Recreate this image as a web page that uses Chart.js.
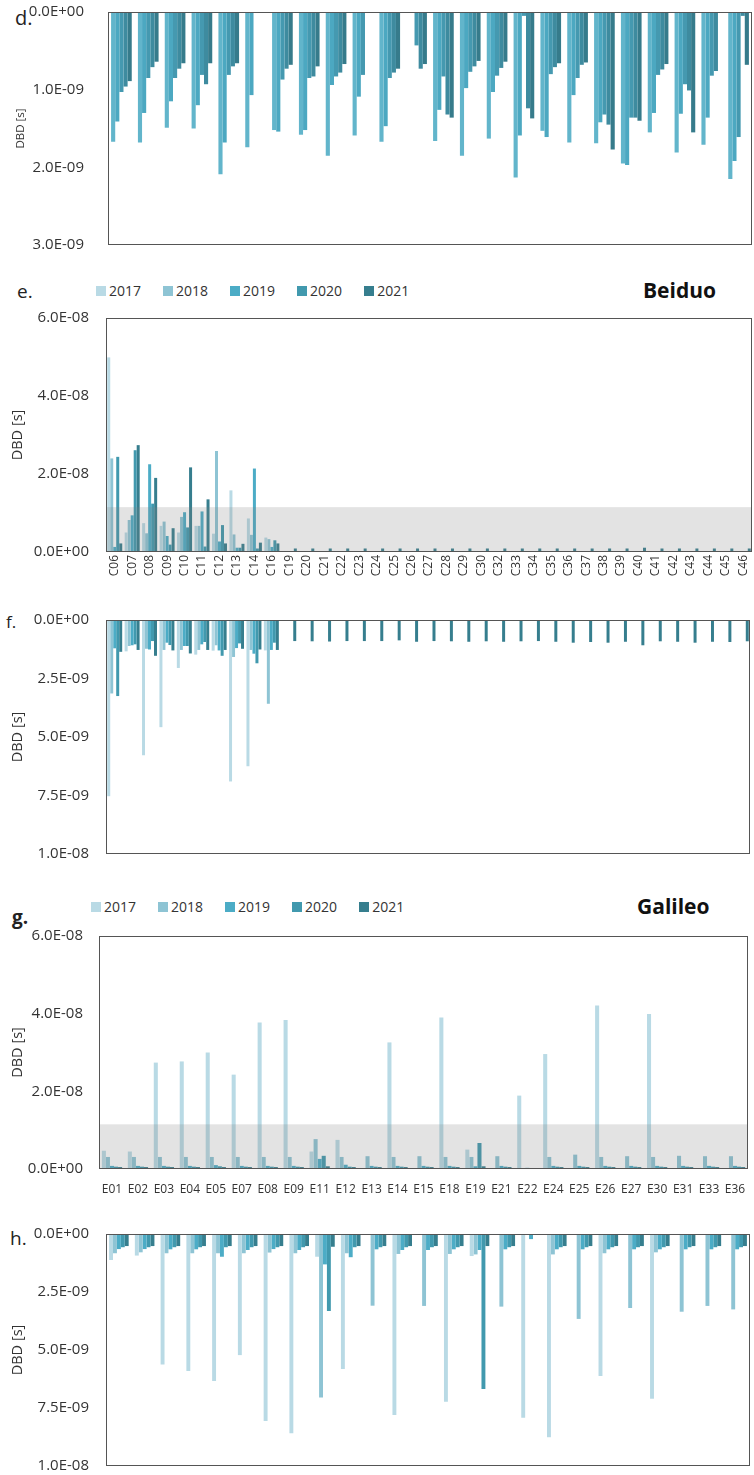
<!DOCTYPE html>
<html>
<head>
<meta charset="utf-8">
<script src="https://cdn.jsdelivr.net/npm/chart.js@4.4.1/dist/chart.umd.min.js"></script>
<style>
  body { margin: 0; background: #fff; font-family: 'Open Sans', sans-serif; color: #222; }
  #page { position: relative; width: 754px; height: 1475px; overflow: hidden; }
  canvas { position: absolute; left: 0; }
  .tag { position: absolute; font-size: 19px; line-height: 1; }
  .sys { position: absolute; font-size: 21px; font-weight: bold; line-height: 1; color: #111; }
  .legend { position: absolute; display: flex; font-size: 14px; line-height: 1; color: #333; }
  .legend .item { display: flex; align-items: center; margin-right: 22px; }
  .legend i { display: inline-block; width: 10px; height: 10px; margin-right: 3px; }
</style>
</head>
<body>
<div id="page">
  <div class="tag" style="left:15px; top:8px; font-size:20px;">d.</div>
  <div class="tag" style="left:17px; top:282px;">e.</div>
  <div class="tag" style="left:6px; top:613px; font-size:17px;">f.</div>
  <div class="tag" style="left:12px; top:908px; font-weight:bold;">g.</div>
  <div class="tag" style="left:10px; top:1229px;">h.</div>

  <div class="legend" id="legE" style="left:96px; top:284px;"></div>
  <div class="sys" style="left:643px; top:280px;">Beiduo</div>
  <div class="legend" id="legG" style="left:91px; top:900px;"></div>
  <div class="sys" style="left:637px; top:896px;">Galileo</div>

  <canvas id="chartD" width="754" height="255" style="top:0px;"></canvas>
  <canvas id="chartE" width="754" height="282" style="top:300px;"></canvas>
  <canvas id="chartF" width="754" height="264" style="top:600px;"></canvas>
  <canvas id="chartG" width="754" height="279" style="top:920px;"></canvas>
  <canvas id="chartH" width="754" height="259" style="top:1215px;"></canvas>
</div>
<script>
'use strict';

// Series (years) and colours
const years = ['2017', '2018', '2019', '2020', '2021'];
const yearColors = ['#b9dae5', '#8ec4d4', '#4cacc6', '#4199ae', '#367e8e'];
const dColors = ['#62b5cb', '#4ca8c1', '#4599b0', '#3e8b9f', '#367b8b'];

// Units the values below are written in
const unit9 = 1e-9;
const unit8 = 1e-8;

// Grey band limit for e. and g.
const bandLimit = 1.15e-8;

// Tick labels
const dTicks = [0, 1e-9, 2e-9, 3e-9];
const eTicks = [0, 2e-8, 4e-8, 6e-8];
const fTicks = [0, 2.5e-9, 5e-9, 7.5e-9, 1e-8];
const gTicks = [0, 2e-8, 4e-8, 6e-8];
const hTicks = [0, 2.5e-9, 5e-9, 7.5e-9, 1e-8];

// d. (satellite names are not shown in the picture)
const dSats = ['1', '2', '3', '4', '5', '6', '7', '8', '9', '10', '11', '12',
    '13', '14', '15', '16', '17', '18', '19', '20', '21', '22', '23', '24'];
const d2017 = [1.67, 1.68, 1.49, 1.50, 2.09, 1.74, 1.52, 1.58, 1.85, 1.59, 1.67, null, 1.66, 1.85, 1.63, 2.13, 1.53, 1.68, 1.69, 1.95, 1.55, 1.81, 1.71, 2.15];
const d2018 = [1.41, 1.30, 1.15, 1.20, 1.68, 1.07, 1.54, 1.52, 0.94, 1.09, 1.47, null, 1.26, 0.98, 1.03, 1.59, 1.61, 1.07, 1.42, 1.97, 1.30, 1.31, 1.36, 1.92];
const d2019 = [1.03, 0.85, 0.85, 0.81, 0.81, null, 0.87, 0.85, 0.83, 0.81, 0.85, 0.43, 0.83, 0.77, 0.82, 0.05, 0.80, 0.85, 1.32, 1.36, 0.81, 0.93, 0.82, 1.61];
const d2020 = [0.96, 0.71, 0.73, 0.93, 0.70, null, 0.73, 0.83, 0.78, null, 0.78, 0.73, 1.32, 0.70, 0.72, 1.24, 0.71, 0.68, 1.45, 1.36, 0.74, 1.01, 0.76, 0.05];
const d2021 = [0.89, 0.64, 0.66, 0.66, 0.66, null, 0.68, 0.70, 0.67, null, 0.73, 0.67, 1.36, 0.63, 0.64, 1.37, 0.66, 0.65, 1.77, 1.40, 0.67, 1.55, null, 0.68];

// Beiduo satellites (e. and f.)
const bdsSats = ['C06', 'C07', 'C08', 'C09', 'C10', 'C11', 'C12', 'C13', 'C14', 'C16',
    'C19', 'C20', 'C21', 'C22', 'C23', 'C24', 'C25', 'C26', 'C27', 'C28', 'C29', 'C30',
    'C32', 'C33', 'C34', 'C35', 'C36', 'C37', 'C38', 'C39', 'C40', 'C41', 'C42', 'C43',
    'C44', 'C45', 'C46'];
const e2017 = [4.99, 0.50, 0.74, 0.67, 0.50, 0.67, 0.47, 1.58, 0.86, 0.37,
    null, null, null, null, null, null, null, null, null, null, null, null, null, null,
    null, null, null, null, null, null, null, null, null, null, null, null, null];
const e2018 = [2.40, 0.82, 0.48, 0.78, 0.90, 0.67, 2.59, 0.45, 0.44, 0.33,
    null, null, null, null, null, null, null, null, null, null, null, null, null, null,
    null, null, null, null, null, null, null, null, null, null, null, null, null];
const e2019 = [0.13, 0.94, 2.25, 0.41, 1.02, 1.04, 0.27, 0.11, 2.14, 0.13,
    null, null, null, null, null, null, null, null, null, null, null, null, null, null,
    null, null, null, null, null, null, null, null, null, null, null, null, null];
const e2020 = [2.44, 2.61, 1.24, 0.19, 0.63, 0.14, 0.69, 0.11, 0.09, 0.30,
    null, null, null, null, null, null, null, null, null, null, null, null, null, null,
    null, null, null, null, null, null, null, null, null, null, null, null, null];
const e2021 = [0.22, 2.74, 1.90, 0.61, 2.17, 1.35, 0.22, 0.21, 0.24, 0.22,
    0.09, 0.09, 0.09, 0.09, 0.09, 0.09, 0.09, 0.09, 0.09, 0.09, 0.09, 0.09, 0.09, 0.09,
    0.09, 0.09, 0.09, 0.09, 0.09, 0.09, 0.11, 0.09, 0.09, 0.09, 0.09, 0.09, 0.09];

const f2017 = [7.53, 1.34, 5.78, 4.58, 2.05, 1.48, 1.31, 6.90, 6.25, 1.30,
    null, null, null, null, null, null, null, null, null, null, null, null, null, null,
    null, null, null, null, null, null, null, null, null, null, null, null, null];
const f2018 = [3.14, 1.11, 1.23, 1.28, 1.28, 1.28, 1.08, 1.58, 1.28, 3.58,
    null, null, null, null, null, null, null, null, null, null, null, null, null, null,
    null, null, null, null, null, null, null, null, null, null, null, null, null];
const f2019 = [1.21, 1.08, 1.26, 0.97, 1.11, 1.04, 1.30, 1.20, 1.44, 1.28,
    null, null, null, null, null, null, null, null, null, null, null, null, null, null,
    null, null, null, null, null, null, null, null, null, null, null, null, null];
const f2020 = [3.25, 1.04, 0.90, 1.07, 1.11, 0.94, 1.53, 1.00, 1.85, 0.97,
    null, null, null, null, null, null, null, null, null, null, null, null, null, null,
    null, null, null, null, null, null, null, null, null, null, null, null, null];
const f2021 = [1.36, 1.28, 1.53, 1.30, 1.43, 1.28, 1.28, 1.23, 1.26, 1.28,
    0.90, 0.91, 0.92, 0.90, 0.90, 0.90, 0.87, 0.93, 0.90, 0.91, 0.93, 0.91, 0.93, 0.91,
    0.90, 0.93, 0.97, 0.94, 0.97, 0.93, 1.08, 0.91, 0.93, 0.97, 0.93, 0.94, 0.91];

// Galileo satellites (g. and h.)
const galSats = ['E01', 'E02', 'E03', 'E04', 'E05', 'E07', 'E08', 'E09', 'E11', 'E12',
    'E13', 'E14', 'E15', 'E18', 'E19', 'E21', 'E22', 'E24', 'E25', 'E26', 'E27', 'E30',
    'E31', 'E33', 'E36'];
const g2017 = [0.47, 0.45, 2.74, 2.77, 3.00, 2.43, 3.77, 3.84, 0.45, 0.75, null, 3.26, null, 3.90, 0.50, null, 1.89, 2.96, null, 4.21, null, 3.99, null, null, null];
const g2018 = [0.31, 0.31, 0.31, 0.31, 0.31, 0.31, 0.31, 0.31, 0.77, 0.31, 0.33, 0.31, 0.33, 0.31, 0.31, 0.33, null, 0.31, 0.37, 0.31, 0.33, 0.31, 0.34, 0.33, 0.33];
const g2019 = [0.08, 0.08, 0.08, 0.08, 0.10, 0.08, 0.08, 0.08, 0.26, 0.11, 0.08, 0.08, 0.08, 0.08, 0.07, 0.08, 0.03, 0.08, 0.08, 0.08, 0.08, 0.08, 0.08, 0.08, 0.08];
const g2020 = [0.06, 0.06, 0.06, 0.06, 0.07, 0.06, 0.06, 0.06, 0.34, 0.06, 0.06, 0.06, 0.06, 0.06, 0.67, 0.06, null, 0.06, 0.06, 0.06, 0.06, 0.06, 0.06, 0.06, 0.06];
const g2021 = [0.05, 0.05, 0.05, 0.05, 0.05, 0.05, 0.05, 0.05, 0.07, 0.05, 0.05, 0.05, 0.05, 0.05, 0.07, 0.05, null, 0.05, 0.05, 0.05, 0.05, 0.05, 0.05, 0.05, 0.05];

const h2017 = [1.12, 0.93, 5.62, 5.91, 6.34, 5.22, 8.06, 8.59, 0.98, 5.82, null, 7.80, null, 7.23, 0.95, null, 7.92, 8.76, null, 6.12, null, 7.10, null, null, null];
const h2018 = [0.83, 0.79, 0.83, 0.83, 0.83, 0.83, 0.80, 0.83, 7.05, 0.83, 3.09, 0.86, 3.10, 0.86, 0.88, 3.13, null, 0.88, 3.66, 0.83, 3.19, 0.79, 3.35, 3.10, 3.25];
const h2019 = [0.65, 0.65, 0.66, 0.66, 0.98, 0.69, 0.65, 0.69, 1.31, 1.00, 0.66, 0.69, 0.69, 0.66, 0.69, 0.66, 0.22, 0.66, 0.66, 0.66, 0.66, 0.66, 0.66, 0.66, 0.66];
const h2020 = [0.57, 0.57, 0.57, 0.57, 0.57, 0.57, 0.57, 0.57, 3.32, 0.57, 0.57, 0.57, 0.57, 0.57, 6.68, 0.57, null, 0.57, 0.57, 0.57, 0.57, 0.57, 0.57, 0.57, 0.57];
const h2021 = [0.52, 0.52, 0.52, 0.52, 0.52, 0.52, 0.52, 0.52, 0.55, 0.52, 0.52, 0.52, 0.52, 0.52, 0.52, 0.52, null, 0.52, 0.52, 0.52, 0.52, 0.52, 0.52, 0.52, 0.52];

Chart.defaults.font.family = "'Open Sans', sans-serif";

// Tick text like 2.5E-09
function sci(v) {
    if (Math.abs(v) < 1e-20) return '0.0E+00';
    const parts = v.toExponential(1).split('e');
    const exp = parseInt(parts[1], 10);
    return parts[0] + 'E' + (exp < 0 ? '-' : '+') + String(Math.abs(exp)).padStart(2, '0');
}

function toSeconds(list, unit) {
    return list.map(v => (v === null ? null : v * unit));
}

// Grey band drawn over the bars
const bandPlugin = {
    id: 'band',
    afterDatasetsDraw(chart, args, opts) {
        const a = chart.chartArea;
        const y = chart.scales.y;
        const top = y.getPixelForValue(opts.limit);
        const bottom = y.getPixelForValue(0);
        const ctx = chart.ctx;
        ctx.save();
        ctx.fillStyle = 'rgba(128,128,128,0.22)';
        ctx.fillRect(a.left, top, a.right - a.left, bottom - top);
        ctx.restore();
    }
};

// Box round the plot area
const framePlugin = {
    id: 'frame',
    afterDraw(chart) {
        const a = chart.chartArea;
        const ctx = chart.ctx;
        ctx.save();
        ctx.strokeStyle = '#555';
        ctx.lineWidth = 1;
        ctx.strokeRect(Math.round(a.left) + 0.5, Math.round(a.top) + 0.5,
            Math.round(a.right - a.left) - 1, Math.round(a.bottom - a.top) - 1);
        ctx.restore();
    }
};

function drawPanel(id, o) {
    const datasets = o.series.map((s, i) => ({
        label: years[i],
        data: toSeconds(s, o.unit),
        backgroundColor: o.colors[i],
        borderWidth: 0,
        categoryPercentage: o.groupWidth,
        barPercentage: 1
    }));

    return new Chart(document.getElementById(id), {
        type: 'bar',
        data: { labels: o.labels, datasets: datasets },
        options: {
            responsive: false,
            animation: false,
            devicePixelRatio: 1,
            layout: { padding: { top: o.padTop, right: o.padRight, left: 0, bottom: 0 } },
            plugins: {
                legend: { display: false },
                tooltip: { enabled: false },
                band: { limit: bandLimit }
            },
            scales: {
                x: {
                    grid: { display: false, drawTicks: false },
                    border: { display: false },
                    ticks: {
                        display: o.showX,
                        autoSkip: false,
                        color: '#333',
                        font: { size: o.xFont },
                        padding: o.xPad,
                        minRotation: o.rotation,
                        maxRotation: o.rotation
                    },
                    afterFit: s => {
                        s.height = o.xHeight;
                        s.paddingLeft = 0;
                        s.paddingRight = 0;
                    }
                },
                y: {
                    reverse: o.reverse,
                    min: o.ticks[0],
                    max: o.ticks[o.ticks.length - 1],
                    grid: { display: false, drawTicks: false },
                    border: { display: false },
                    afterBuildTicks: s => { s.ticks = o.ticks.map(v => ({ value: v })); },
                    ticks: {
                        color: '#333',
                        font: { size: 15 },
                        padding: o.yPad,
                        callback: v => sci(v)
                    },
                    title: {
                        display: true,
                        text: 'DBD [s]',
                        color: '#333',
                        font: { size: o.titleSize },
                        padding: { top: o.titlePad, bottom: 0 }
                    },
                    afterFit: s => {
                        s.width = o.yWidth;
                        s.paddingTop = 0;
                        s.paddingBottom = 0;
                    }
                }
            }
        },
        plugins: o.band ? [bandPlugin, framePlugin] : [framePlugin]
    });
}

// HTML legends for e. and g.
function fillLegend(id) {
    const box = document.getElementById(id);
    years.forEach((y, i) => {
        const item = document.createElement('span');
        item.className = 'item';
        const sw = document.createElement('i');
        sw.style.background = yearColors[i];
        item.appendChild(sw);
        item.appendChild(document.createTextNode(y));
        box.appendChild(item);
    });
}
fillLegend('legE');
fillLegend('legG');

drawPanel('chartD', {
    labels: dSats, series: [d2017, d2018, d2019, d2020, d2021], colors: dColors, unit: unit9,
    ticks: dTicks, reverse: true, band: false, groupWidth: 0.77,
    padTop: 12, padRight: 2, yWidth: 108, xHeight: 10, yPad: 24,
    showX: false, xFont: 12, xPad: 0, rotation: 0, titleSize: 11.5, titlePad: 14
});

drawPanel('chartE', {
    labels: bdsSats, series: [e2017, e2018, e2019, e2020, e2021], colors: yearColors, unit: unit8,
    ticks: eTicks, reverse: false, band: true, groupWidth: 0.86,
    padTop: 18, padRight: 2, yWidth: 106, xHeight: 30, yPad: 17,
    showX: true, xFont: 12, xPad: 3, rotation: 90, titleSize: 14.5, titlePad: 9
});

drawPanel('chartF', {
    labels: bdsSats, series: [f2017, f2018, f2019, f2020, f2021], colors: yearColors, unit: unit9,
    ticks: fTicks, reverse: true, band: false, groupWidth: 0.86,
    padTop: 20, padRight: 4, yWidth: 106, xHeight: 10, yPad: 17,
    showX: false, xFont: 12, xPad: 0, rotation: 0, titleSize: 14.5, titlePad: 9
});

drawPanel('chartG', {
    labels: galSats, series: [g2017, g2018, g2019, g2020, g2021], colors: yearColors, unit: unit8,
    ticks: gTicks, reverse: false, band: true, groupWidth: 0.78,
    padTop: 16, padRight: 6, yWidth: 99, xHeight: 30, yPad: 16,
    showX: true, xFont: 12, xPad: 13, rotation: 0, titleSize: 14.5, titlePad: 9
});

drawPanel('chartH', {
    labels: galSats, series: [h2017, h2018, h2019, h2020, h2021], colors: yearColors, unit: unit9,
    ticks: hTicks, reverse: true, band: false, groupWidth: 0.76,
    padTop: 19, padRight: 4, yWidth: 106, xHeight: 8, yPad: 17,
    showX: false, xFont: 12, xPad: 0, rotation: 0, titleSize: 14.5, titlePad: 9
});
</script>
</body>
</html>
